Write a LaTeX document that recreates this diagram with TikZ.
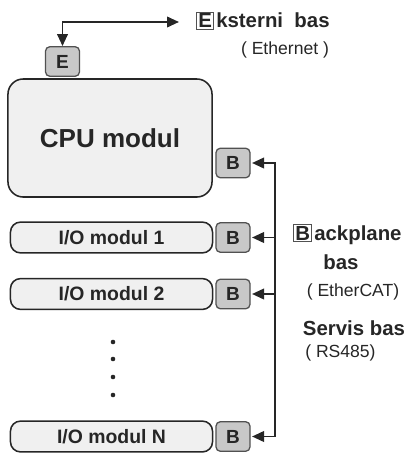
\documentclass[tikz,border=0pt]{standalone}
\usepackage{fontspec}
\setmainfont{Liberation Sans}
\usetikzlibrary{arrows.meta}

\definecolor{modfill}{HTML}{F0F0F0}
\definecolor{portfill}{HTML}{C8C8C8}
\definecolor{linecol}{HTML}{262626}

\begin{document}
\begin{tikzpicture}[
                x=0.025cm, y=-0.025cm,
                >={Triangle[length=8.5pt,width=7.5pt]},
                every node/.style={align=center, text=linecol},
                module/.style={draw=linecol, line width=1.1pt, fill=modfill, rounded corners=0.25cm,
                               minimum width=5.05cm, minimum height=0.77cm, inner sep=0pt,
                               font=\fontsize{13.8}{16}\selectfont\bfseries},
                port/.style={draw=linecol!80, line width=0.9pt, fill=portfill, rounded corners=0.11cm,
                             minimum width=0.85cm, minimum height=0.74cm, inner sep=0pt,
                             font=\fontsize{13.5}{16}\selectfont\bfseries},
                letterbox/.style={draw=linecol!80, line width=0.7pt, inner sep=1pt,
                                  font=\fontsize{14.5}{17}\selectfont\bfseries},
                lbl/.style={font=\fontsize{14.5}{17}\selectfont\bfseries, inner sep=0pt},
                sub/.style={font=\fontsize{12.5}{15}\selectfont, inner sep=0pt},
                bus/.style={draw=linecol, line width=1.4pt}
            ]
            \useasboundingbox (0,0) rectangle (407,453);

            % Nodes
            \node[draw=linecol, line width=1.1pt, fill=modfill, rounded corners=0.38cm,
                  minimum width=5.1cm, minimum height=2.95cm,
                  font=\fontsize{18.5}{22}\selectfont\bfseries] (cpu) at (110,138) {CPU modul};
            \node[port] (bcpu) at (233,163) {B};
            \node[port] (e) at (62.5,61.5) {E};

            \node[module] (io1) at (111.5,237.5) {I/O modul 1};
            \node[port] (b1) at (233,237.5) {B};
            \node[module] (io2) at (111.5,294) {I/O modul 2};
            \node[port] (b2) at (233,294) {B};
            \node[module] (ioN) at (111.5,436.5) {I/O modul N};
            \node[port] (bN) at (233,436.5) {B};

            \foreach \y in {342,359,377,395}
                \fill[linecol] (113,\y) circle (2.3);

            % Labels
            \node[lbl, anchor=base west] (eks) at (216,28) {ksterni\ \ bas};
            \node[letterbox, anchor=base east] (eletter) at ([xshift=-1.5pt]eks.base west) {E};
            \node[sub] (eth) at (285,50) {( Ethernet )};

            \node[lbl, anchor=base west] (bpl) at (314,240) {ackplane};
            \node[letterbox, anchor=base east] (bletter) at ([xshift=-1.5pt]bpl.base west) {B};
            \node[lbl] (bpbas) at (341,262) {bas};
            \node[sub] (ecat) at (353,292) {( EtherCAT)};
            \node[lbl] (servis) at (354,328) {Servis bas};
            \node[sub, anchor=west] (rs) at (305,353) {( RS485)};

            % Edges
            \coordinate (ext) at (179,22);
            \coordinate (bus) at (275,0);
            \draw[bus, <->] (e.north) |- (ext);
            \draw[bus, <->, shorten <=1pt, shorten >=1pt]
                (bcpu.east) -- (bcpu.east -| bus) -- (bN.east -| bus) -- (bN.east);
            \draw[bus, ->, shorten >=1pt] (b1.east -| bus) -- (b1.east);
            \draw[bus, ->, shorten >=1pt] (b2.east -| bus) -- (b2.east);

            \end{tikzpicture}
\end{document}
